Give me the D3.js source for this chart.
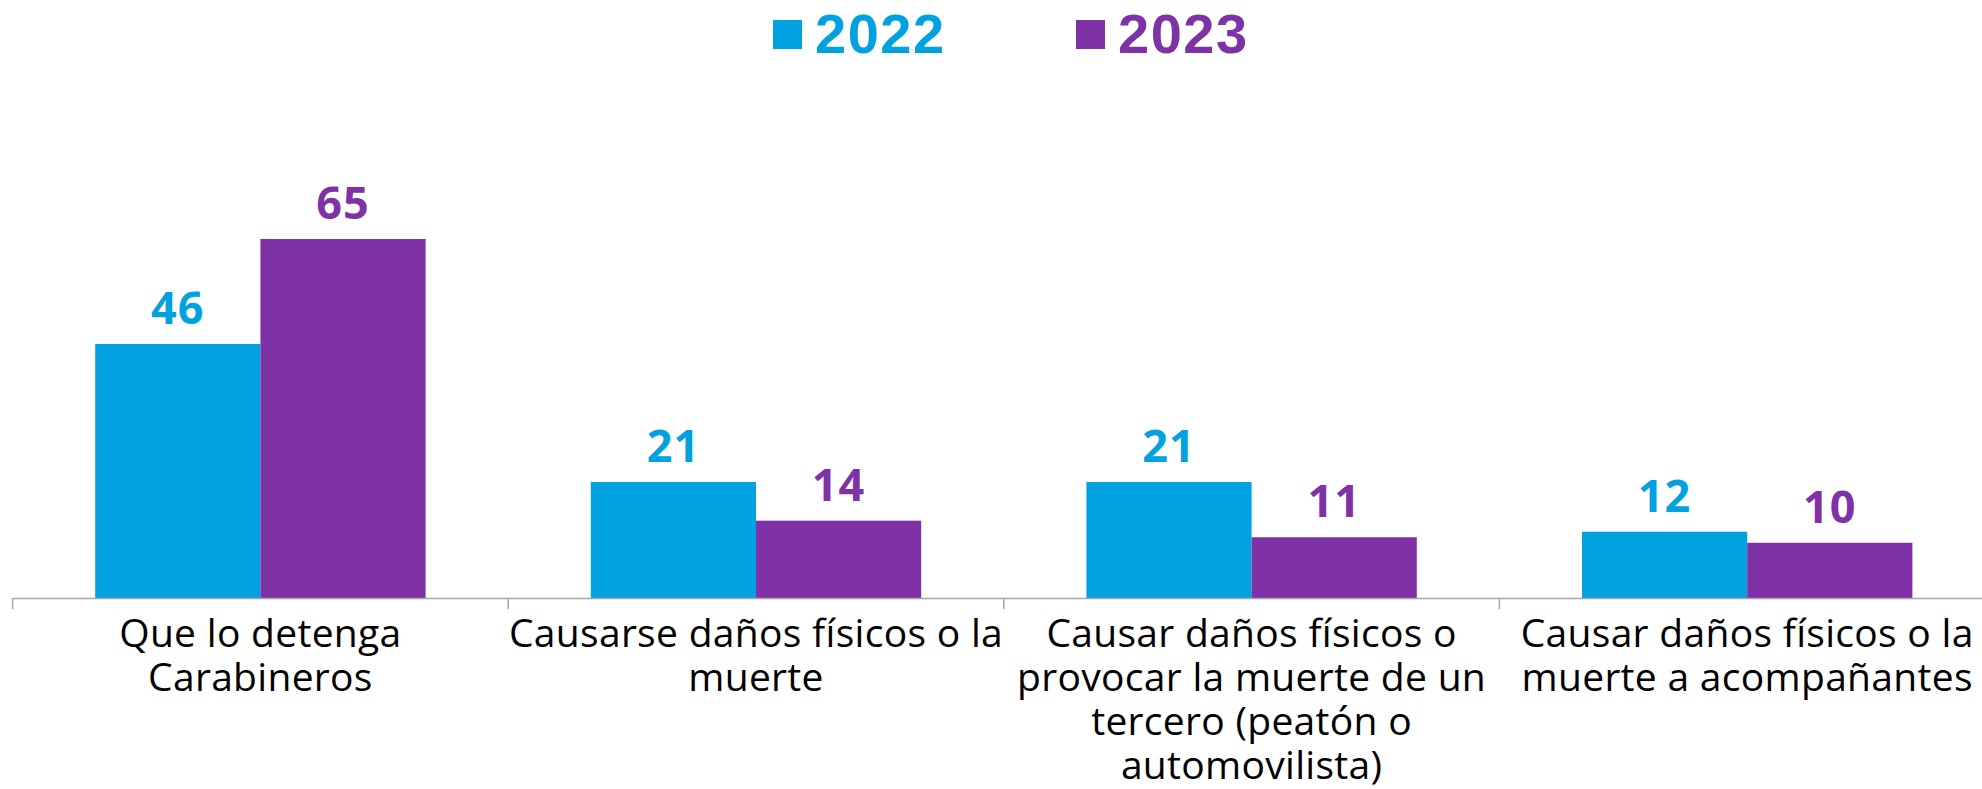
<!DOCTYPE html>
<html>
<head>
<meta charset="utf-8">
<script src="https://cdn.jsdelivr.net/npm/d3@7"></script>
<style>
  body { margin: 0; background: #fff; }
  svg { display: block; }
</style>
</head>
<body>
<div id="chart"></div>
<script>
// Data
var categories = [
  "Que lo detenga\nCarabineros",
  "Causarse daños físicos o la\nmuerte",
  "Causar daños físicos o\nprovocar la muerte de un\ntercero (peatón o\nautomovilista)",
  "Causar daños físicos o la\nmuerte a acompañantes"
];
var years = ["2022", "2023"];
var values2022 = [46, 21, 21, 12];
var values2023 = [65, 14, 11, 10];
var colors = ["#02A1E0", "#7F31A6"];

var svgWidth = 1982;
var svgHeight = 789;

var svg = d3.select("#chart")
    .append("svg")
    .attr("width", svgWidth)
    .attr("height", svgHeight);

var baseY = 598;
var topY = 239;   // where the 65 bar ends

// x scales: one band per category, bars take the middle two thirds
var x0 = d3.scaleBand()
    .domain(categories)
    .range([12.6, 12.6 + 4 * 495.6])
    .padding(0);

var x1 = d3.scaleBand()
    .domain(years)
    .range([x0.bandwidth() / 6, x0.bandwidth() * 5 / 6])
    .padding(0);

var y = d3.scaleLinear()
    .domain([0, 65])
    .range([baseY, topY]);

var rows = categories.map(function(c, i) {
  return { cat: c, vals: [values2022[i], values2023[i]] };
});

// bars
var groups = svg.append("g").selectAll("g")
    .data(rows)
    .enter()
    .append("g")
    .attr("transform", d => `translate(${x0(d.cat)},0)`);

groups.selectAll("rect")
    .data(d => d.vals.map((v, j) => ({ year: years[j], v: v, j: j })))
    .enter()
    .append("rect")
    .attr("x", d => x1(d.year))
    .attr("y", d => y(d.v))
    .attr("width", x1.bandwidth())
    .attr("height", d => baseY - y(d.v))
    .attr("fill", d => colors[d.j]);

// value labels
groups.selectAll("text")
    .data(d => d.vals.map((v, j) => ({ year: years[j], v: v, j: j })))
    .enter()
    .append("text")
    .attr("x", d => x1(d.year) + x1.bandwidth() / 2)
    .attr("y", d => y(d.v) - 20)
    .attr("text-anchor", "middle")
    .attr("font-family", "'Open Sans', sans-serif")
    .attr("font-weight", 700)
    .attr("font-size", "45px")
    .attr("letter-spacing", "1px")
    .attr("fill", d => colors[d.j])
    .text(d => d.v);

// x axis
var xAxis = d3.axisBottom(x0)
    .tickSize(0)
    .tickFormat("");

var axisG = svg.append("g")
    .attr("transform", `translate(0,${baseY})`)
    .call(xAxis);
axisG.select(".domain").attr("stroke", "#a6a6a6").attr("stroke-width", 1.5);

// ticks at band edges
var edges = categories.map(c => x0(c)).concat([x0.range()[1]]);
axisG.selectAll(".edge")
    .data(edges)
    .enter()
    .append("line")
    .attr("x1", d => d).attr("x2", d => d)
    .attr("y1", 0).attr("y2", 11)
    .attr("stroke", "#a6a6a6")
    .attr("stroke-width", 1.5);

// category labels
var labels = svg.append("g").selectAll("text")
    .data(categories)
    .enter()
    .append("text")
    .attr("x", d => x0(d) + x0.bandwidth() / 2)
    .attr("y", 647)
    .attr("text-anchor", "middle")
    .attr("font-family", "'Open Sans', sans-serif")
    .attr("font-size", "39px")
    .attr("letter-spacing", "0.3px")
    .attr("fill", "#000");

labels.selectAll("tspan")
    .data(d => d.split("\n"))
    .enter()
    .append("tspan")
    .attr("x", function() { return d3.select(this.parentNode).attr("x"); })
    .attr("dy", (d, i) => i === 0 ? 0 : 44)
    .text(d => d);

// legend
var legendX = [773, 1076];
var legend = svg.append("g").selectAll("g")
    .data(years)
    .enter()
    .append("g")
    .attr("transform", (d, i) => `translate(${legendX[i]},0)`);

legend.append("rect")
    .attr("x", 0).attr("y", 20)
    .attr("width", 29).attr("height", 29)
    .attr("fill", (d, i) => colors[i]);

legend.append("text")
    .attr("x", 42)
    .attr("y", 53)
    .attr("font-family", "'Liberation Sans', sans-serif")
    .attr("font-weight", 700)
    .attr("font-size", "56px")
    .attr("letter-spacing", "1.5px")
    .attr("fill", (d, i) => colors[i])
    .text(d => d);
</script>
</body>
</html>
